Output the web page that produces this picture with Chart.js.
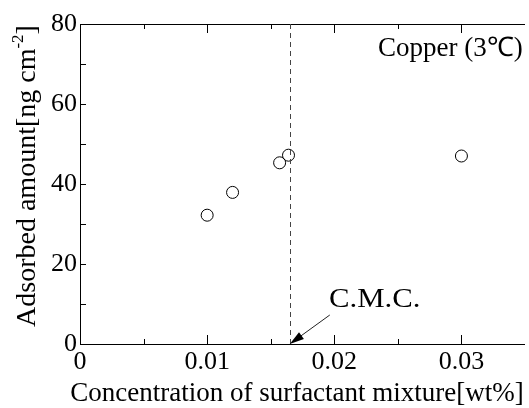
<!DOCTYPE html>
<html>
<head>
<meta charset="utf-8">
<script src="https://cdn.jsdelivr.net/npm/chart.js@4"></script>
<style>
    body { margin: 0; background: #fff; overflow: hidden; }
    #wrap { width: 532px; height: 408px; }
</style>
</head>
<body>
<div id="wrap"><canvas id="chart"></canvas></div>
<script>
// measured points (concentration wt%, adsorbed amount ng/cm2)
const concentration = [0.010, 0.012, 0.0157, 0.0164, 0.030];
const adsorbed = [32.2, 37.9, 45.3, 47.2, 47.0];
const cmcValue = 0.0165;
const xTicks = [0, 0.01, 0.02, 0.03];
const yTicks = [0, 20, 40, 60, 80];
const xMinor = [0.005, 0.015, 0.025];
const yMinor = [10, 30, 50, 70];

const FONT = '"Liberation Serif", "Times New Roman", serif';

const decorations = {
    id: 'decorations',
    afterDraw(chart) {
        const ctx = chart.ctx;
        const a = chart.chartArea;
        const xs = chart.scales.x, ys = chart.scales.y;
        ctx.save();

        // frame (left, bottom, top)
        ctx.strokeStyle = '#000';
        ctx.lineWidth = 1;
        ctx.beginPath();
        ctx.moveTo(a.left + 0.5, a.top + 0.5);
        ctx.lineTo(a.left + 0.5, a.bottom + 0.5);
        ctx.lineTo(a.right, a.bottom + 0.5);
        ctx.moveTo(a.left + 0.5, a.top + 0.5);
        ctx.lineTo(a.right, a.top + 0.5);
        ctx.stroke();

        // inward ticks
        ctx.beginPath();
        xTicks.concat(xMinor).forEach(v => {
            const len = xTicks.includes(v) ? 9 : 5;
            const px = Math.round(xs.getPixelForValue(v)) + 0.5;
            ctx.moveTo(px, a.bottom);
            ctx.lineTo(px, a.bottom - len);
            ctx.moveTo(px, a.top);
            ctx.lineTo(px, a.top + len);
        });
        yTicks.concat(yMinor).forEach(v => {
            const py = Math.round(ys.getPixelForValue(v)) + 0.5;
            ctx.moveTo(a.left, py);
            ctx.lineTo(a.left + 6, py);
        });
        ctx.stroke();

        // C.M.C. dashed line
        const cx = Math.round(xs.getPixelForValue(cmcValue)) + 0.5;
        ctx.strokeStyle = '#444';
        ctx.setLineDash([5, 4]);
        ctx.beginPath();
        ctx.moveTo(cx, a.top);
        ctx.lineTo(cx, a.bottom);
        ctx.stroke();
        ctx.setLineDash([]);

        // arrow to the C.M.C.
        const tipX = xs.getPixelForValue(cmcValue), tipY = ys.getPixelForValue(0);
        const sx = tipX + 40, sy = tipY - 29;
        const ang = Math.atan2(tipY - sy, tipX - sx);
        ctx.strokeStyle = '#222';
        ctx.fillStyle = '#000';
        ctx.beginPath();
        ctx.moveTo(sx, sy);
        ctx.lineTo(tipX - 10 * Math.cos(ang), tipY - 10 * Math.sin(ang));
        ctx.stroke();
        ctx.beginPath();
        ctx.moveTo(tipX, tipY);
        ctx.lineTo(tipX - 15 * Math.cos(ang - 0.28), tipY - 15 * Math.sin(ang - 0.28));
        ctx.lineTo(tipX - 15 * Math.cos(ang + 0.28), tipY - 15 * Math.sin(ang + 0.28));
        ctx.closePath();
        ctx.fill();

        // texts
        ctx.fillStyle = '#000';
        ctx.textBaseline = 'alphabetic';
        ctx.textAlign = 'left';

        ctx.save();
        ctx.font = '27px ' + FONT;
        ctx.translate(329, 307);
        ctx.scale(1.14, 1);
        ctx.fillText('C.M.C.', 0, 0);
        ctx.restore();

        ctx.font = '27px ' + FONT;
        ctx.fillText('Copper (3\u2103)', 378, 56);

        ctx.textAlign = 'center';
        ctx.fillText('Concentration of surfactant mixture[wt%]', 297, 401);

        // y title with superscript
        ctx.translate(35, 176);
        ctx.rotate(-Math.PI / 2);
        const main = 'Adsorbed amount[ng cm';
        ctx.font = '28px ' + FONT;
        const w1 = ctx.measureText(main).width;
        ctx.font = '17px ' + FONT;
        const w2 = ctx.measureText('-2').width;
        ctx.font = '28px ' + FONT;
        const w3 = ctx.measureText(']').width;
        let x0 = -(w1 + w2 + w3) / 2;
        ctx.textAlign = 'left';
        ctx.fillText(main, x0, 0);
        ctx.font = '17px ' + FONT;
        ctx.fillText('-2', x0 + w1, -12);
        ctx.font = '28px ' + FONT;
        ctx.fillText(']', x0 + w1 + w2, 0);

        ctx.restore();
    }
};

new Chart(document.getElementById('chart'), {
    type: 'scatter',
    data: {
        datasets: [{
            data: concentration.map((c, i) => ({ x: c, y: adsorbed[i] })),
            pointStyle: 'circle',
            pointRadius: 6,
            pointHoverRadius: 6,
            borderColor: '#000',
            borderWidth: 1,
            backgroundColor: 'rgba(0,0,0,0)'
        }]
    },
    options: {
        responsive: true,
        maintainAspectRatio: false,
        animation: false,
        layout: { padding: { top: 24, right: 0, left: 0, bottom: 0 } },
        plugins: {
            legend: { display: false },
            tooltip: { enabled: false }
        },
        scales: {
            x: {
                type: 'linear',
                min: 0,
                max: 0.035,
                afterFit: s => { s.height = 64; },
                afterBuildTicks: s => { s.ticks = xTicks.map(v => ({ value: v })); },
                grid: { display: false, drawTicks: false },
                border: { display: false },
                ticks: {
                    padding: 3,
                    color: '#000',
                    font: { family: FONT, size: 26 },
                    callback: v => String(v)
                }
            },
            y: {
                min: 0,
                max: 80,
                afterFit: s => { s.width = 80; },
                afterBuildTicks: s => { s.ticks = yTicks.map(v => ({ value: v })); },
                grid: { display: false, drawTicks: false },
                border: { display: false },
                ticks: {
                    padding: 3,
                    color: '#000',
                    font: { family: FONT, size: 26 }
                }
            }
        }
    },
    plugins: [decorations]
});
</script>
</body>
</html>
